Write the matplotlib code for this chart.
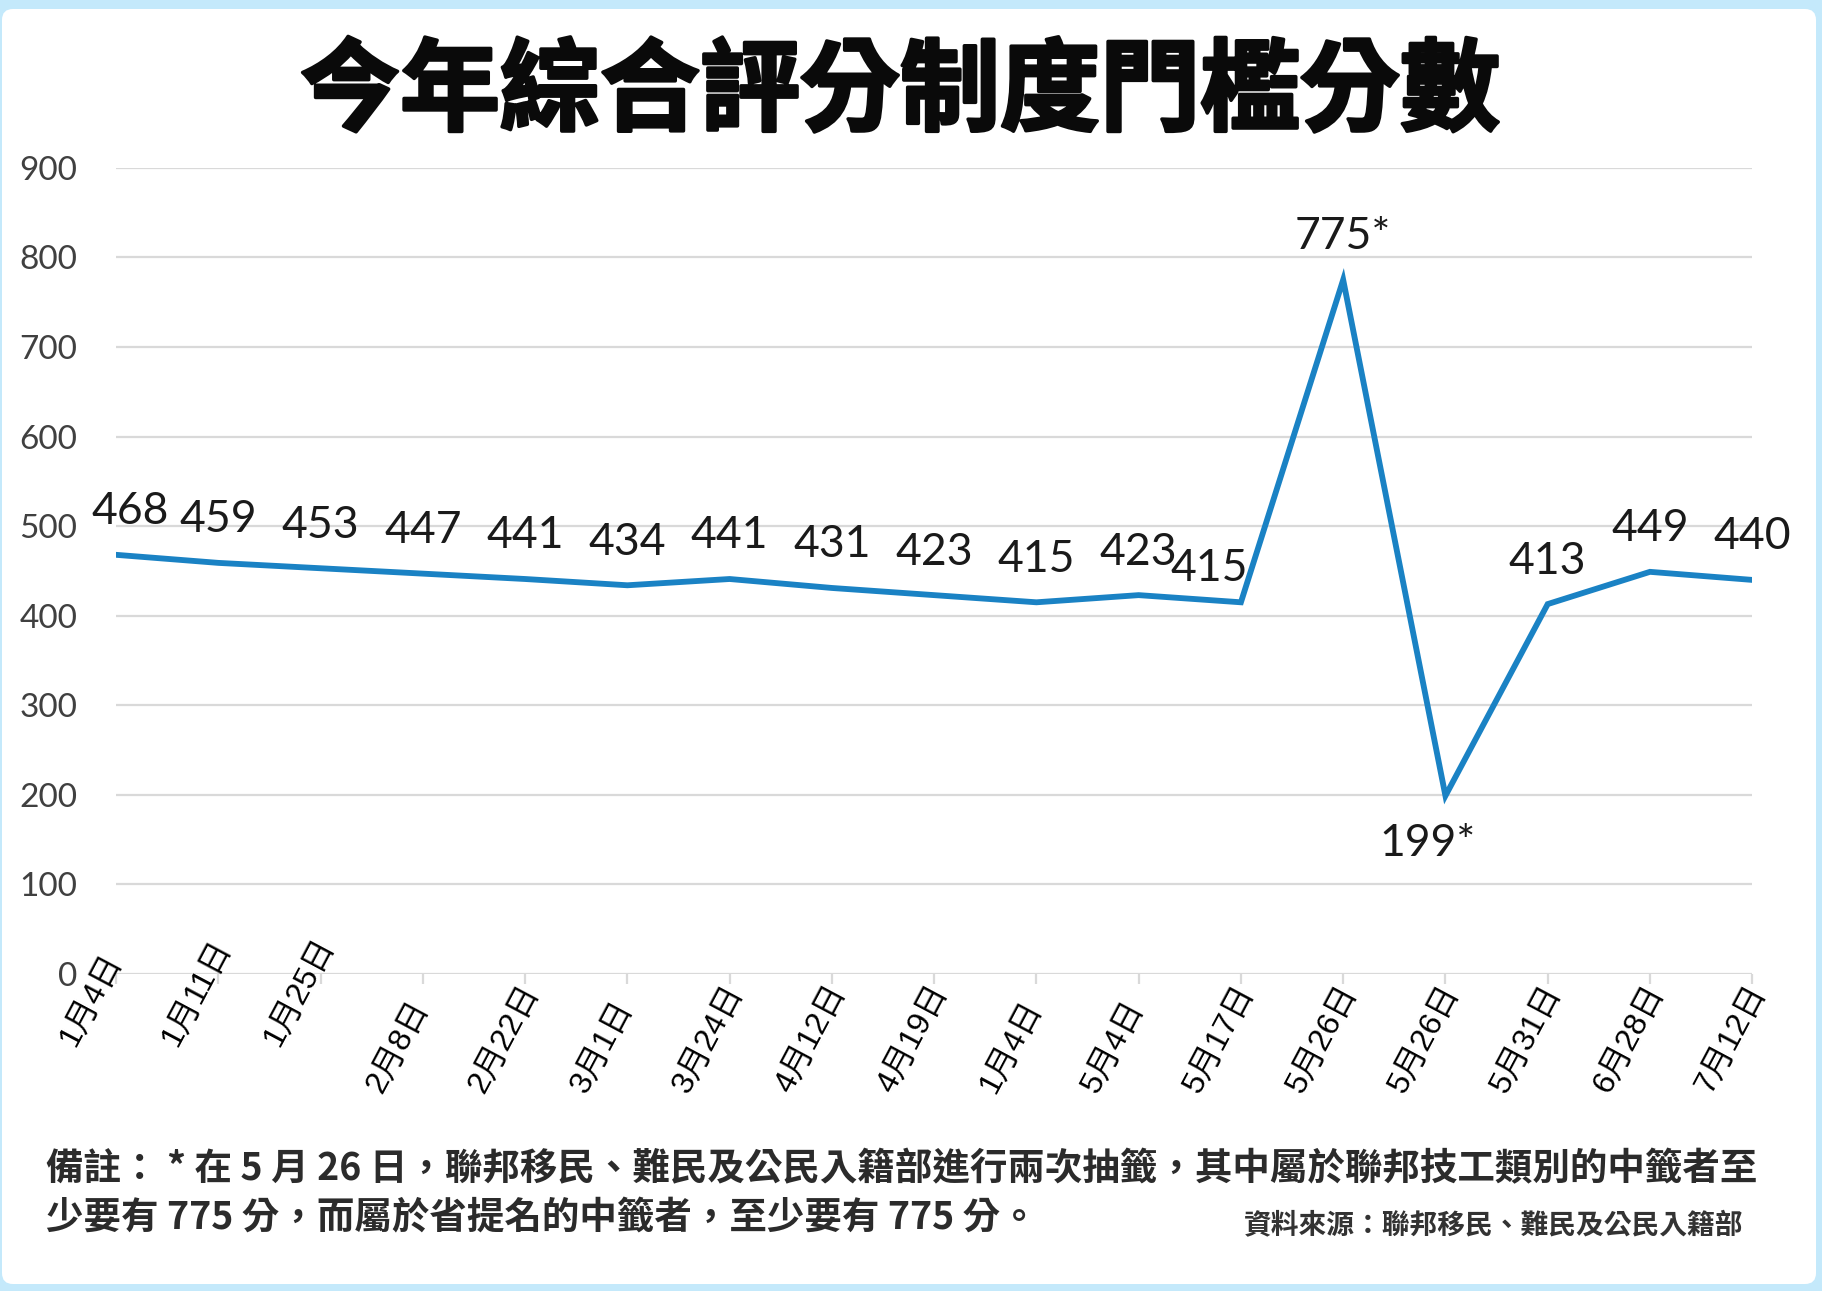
import matplotlib
matplotlib.use('Agg')
from matplotlib import pyplot as plt
from matplotlib.patches import FancyBboxPatch
import matplotlib.patheffects as pe

###############################################################################
# data
dates = ['1月4日', '1月11日', '1月25日', '2月8日', '2月22日', '3月1日',
         '3月24日', '4月12日', '4月19日', '1月4日', '5月4日', '5月17日',
         '5月26日', '5月26日', '5月31日', '6月28日', '7月12日']
scores = [468, 459, 453, 447, 441, 434, 441, 431, 423, 415, 423, 415,
          775, 199, 413, 449, 440]
score_text = ['468', '459', '453', '447', '441', '434', '441', '431', '423',
              '415', '423', '415', '775*', '199*', '413', '449', '440']
yticks = [0, 100, 200, 300, 400, 500, 600, 700, 800, 900]

title = '今年綜合評分制度門檻分數'
note1 = '備註： * 在 5 月 26 日，聯邦移民、難民及公民入籍部進行兩次抽籤，其中屬於聯邦技工類別的中籤者至'
note2 = '少要有 775 分，而屬於省提名的中籤者，至少要有 775 分。'
source = '資料來源：聯邦移民、難民及公民入籍部'

BLUE = '#1a82c4'
GRID = '#d9d9d9'
CJK = ['Noto Sans CJK TC', 'DejaVu Sans']
NUM = ['Lato', 'DejaVu Sans']
LAB = ['Liberation Sans', 'Noto Sans CJK TC', 'DejaVu Sans']

###############################################################################
fig = plt.figure(figsize=(18.22, 12.91), dpi=100, facecolor='#c4e9fb')
panel = FancyBboxPatch((2 / 1822, 7 / 1291), 1814 / 1822, 1275 / 1291,
                       boxstyle='round,pad=0,rounding_size=0.006',
                       mutation_aspect=1822 / 1291,
                       transform=fig.transFigure, fc='white', ec='none',
                       zorder=-5)
fig.patches.append(panel)

ax = fig.add_axes([0.0637, 0.2455, 0.898, 0.6245], zorder=2)
ax.set_facecolor('none')
x = list(range(len(scores)))
ax.plot(x, scores, color=BLUE, lw=4.2, solid_joinstyle='miter', zorder=3)

ax.set_xlim(0, len(scores) - 1)
ax.set_ylim(0, 900)
ax.set_yticks(yticks)
ax.set_yticklabels([str(v) for v in yticks], family=NUM, fontsize=24,
                   color='#404040')
ax.grid(axis='y', color=GRID, lw=1.6)
ax.set_axisbelow(True)
for s in ax.spines.values():
    s.set_visible(False)
ax.tick_params(axis='y', length=0, pad=28)
ax.set_xticks(x)
ax.tick_params(axis='x', length=7, width=1.6, color=GRID, labelbottom=False)

###############################################################################
# data labels
for i, (v, t) in enumerate(zip(scores, score_text)):
    dx, dy = 0, 22
    if i == 0:
        dx = 10
    if i == 11:
        dx, dy = -23, 15
    if i == 13:
        dx, dy = -13, -43
    ax.annotate(t, (i, v), xytext=(dx, dy), textcoords='offset points',
                ha='center', va='baseline', family=NUM, fontsize=32,
                color='#1a1a1a', zorder=4)

# rotated date labels
for i, d in enumerate(dates):
    dy = -50 if i < 3 else -84
    ax.annotate(d, (i, 0), xytext=(-35, dy), textcoords='offset points',
                rotation=62, rotation_mode='anchor', ha='left', va='center',
                family=LAB, fontsize=23, color='#000000',
                annotation_clip=False)

###############################################################################
fig.text(0.494, 0.928, title, ha='center', va='center', family=CJK,
         fontsize=72, weight='heavy', color='#0a0a0a',
         path_effects=[pe.withStroke(linewidth=2.5, foreground='#0a0a0a')])
fig.text(0.025, 0.095, note1, ha='left', va='center', family=CJK,
         fontsize=27, weight='bold', color='#2b2b2b')
fig.text(0.025, 0.0566, note2, ha='left', va='center', family=CJK,
         fontsize=27, weight='bold', color='#2b2b2b')
fig.text(0.957, 0.050, source, ha='right', va='center', family=CJK,
         fontsize=20, weight='bold', color='#333333')

fig.savefig('out.png', dpi=100, facecolor=fig.get_facecolor())
